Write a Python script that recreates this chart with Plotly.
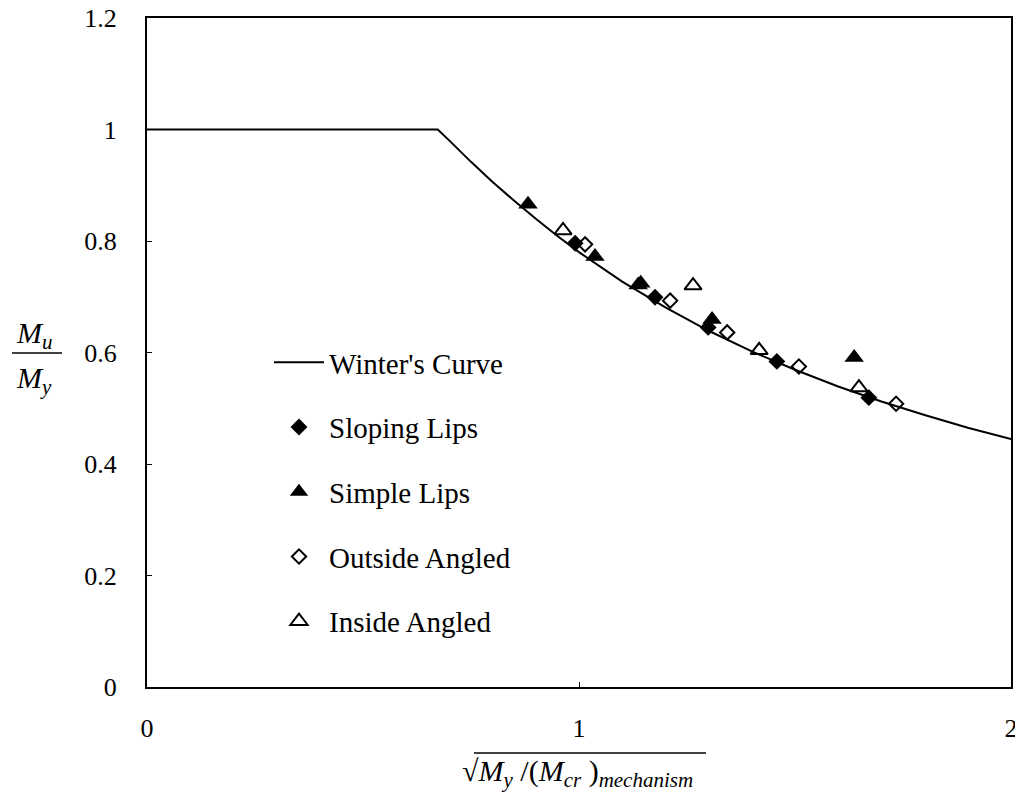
import plotly.graph_objects as go

# Winter's curve
curve_x = [0, 0.2, 0.4, 0.6, 0.673, 0.7, 0.75, 0.8, 0.85, 0.9, 0.95, 1.0, 1.1, 1.2, 1.3, 1.4, 1.5, 1.6, 1.7, 1.8, 1.9, 2.0]
curve_y = [1.0, 1.0, 1.0, 1.0, 1.0, 0.98, 0.942, 0.906, 0.872, 0.840, 0.809, 0.78, 0.727, 0.681, 0.639, 0.602, 0.569, 0.539, 0.512, 0.488, 0.465, 0.445]

sloping_x = [0.991, 1.176, 1.299, 1.458, 1.671]
sloping_y = [0.796, 0.699, 0.645, 0.584, 0.519]

simple_x = [0.882, 1.037, 1.137, 1.143, 1.308, 1.637]
simple_y = [0.866, 0.772, 0.721, 0.724, 0.659, 0.591]

outside_x = [1.014, 1.211, 1.343, 1.509, 1.734]
outside_y = [0.794, 0.693, 0.636, 0.575, 0.508]

inside_x = [0.963, 1.264, 1.417, 1.648]
inside_y = [0.819, 0.720, 0.604, 0.537]

FONT = "'Liberation Serif', 'Times New Roman', 'DejaVu Serif', serif"
OFF = 8  # default page body margin
W, H = 1015, 789
L, R, T, B = 139, 12, 10, 110
pw, ph = W - L - R, H - T - B

def px(x):
    # page pixel -> paper fraction
    return (x - OFF - L) / pw

def py(y):
    return (OFF + H - B - y) / ph

fig = go.Figure()
fig.add_trace(go.Scatter(x=curve_x, y=curve_y, mode="lines", name="Winter's Curve",
                         line=dict(color="black", width=2), legendgroup="a"))
fig.add_trace(go.Scatter(x=sloping_x, y=sloping_y, mode="markers", name="Sloping Lips",
                         marker=dict(symbol="diamond", size=13, color="black"), legendgroup="b"))
fig.add_trace(go.Scatter(x=simple_x, y=simple_y, mode="markers", name="Simple Lips",
                         marker=dict(symbol="triangle-up", size=17, color="black"), legendgroup="c"))
fig.add_trace(go.Scatter(x=outside_x, y=outside_y, mode="markers", name="Outside Angled",
                         marker=dict(symbol="diamond-open", size=11, color="black", line=dict(width=2)), legendgroup="d"))
fig.add_trace(go.Scatter(x=inside_x, y=inside_y, mode="markers", name="Inside Angled",
                         marker=dict(symbol="triangle-up-open", size=15, color="black", line=dict(width=2)), legendgroup="e"))

def axis_common():
    return dict(showgrid=False, zeroline=False, showline=True, linecolor="black", linewidth=2,
                mirror=True, ticks="inside", ticklen=5, tickcolor="black", automargin=False,
                ticklabeloverflow="allow",
                tickfont=dict(family=FONT, size=26, color="black"))

fig.update_xaxes(range=[0, 2], tickvals=[0, 1, 2], ticktext=["0", "1", "2"], ticklabelstandoff=17, **axis_common())
fig.update_yaxes(range=[0, 1.2], tickvals=[0, 0.2, 0.4, 0.6, 0.8, 1.0, 1.2],
                 ticktext=["0", "0.2", "0.4", "0.6", "0.8", "1", "1.2"], ticklabelstandoff=23, **axis_common())

fig.update_layout(
    width=W, height=H,
    margin=dict(l=L, r=R, t=T, b=B, autoexpand=False),
    paper_bgcolor="white", plot_bgcolor="white",
    font=dict(family=FONT, color="black"),
    showlegend=True,
    legend=dict(x=px(269), y=py(337), xanchor="left", yanchor="top",
                font=dict(family=FONT, size=29, color="black"),
                bgcolor="rgba(0,0,0,0)", borderwidth=0,
                tracegroupgap=24, itemwidth=50),
)

# y-axis title as a fraction
fig.add_annotation(xref="paper", yref="paper", x=px(34), y=py(335), text="<i>M<sub>u</sub></i>",
                   showarrow=False, font=dict(family=FONT, size=30, color="black"), xanchor="center", yanchor="middle")
fig.add_annotation(xref="paper", yref="paper", x=px(34), y=py(380), text="<i>M<sub>y</sub></i>",
                   showarrow=False, font=dict(family=FONT, size=30, color="black"), xanchor="center", yanchor="middle")
fig.add_shape(type="line", xref="paper", yref="paper", x0=px(12), x1=px(62), y0=py(353), y1=py(353),
              line=dict(color="black", width=1.5))

# x-axis title with radical
fig.add_annotation(xref="paper", yref="paper", x=px(460), y=py(773),
                   text="√<i>M<sub>y</sub></i> /(<i>M<sub>cr</sub></i> )<sub><i>mechanism</i></sub>",
                   showarrow=False, font=dict(family=FONT, size=30, color="black"), xanchor="left", yanchor="middle")
fig.add_shape(type="line", xref="paper", yref="paper", x0=px(474), x1=px(706), y0=py(753), y1=py(753),
              line=dict(color="black", width=1.5))

fig.write_html("out.html")
